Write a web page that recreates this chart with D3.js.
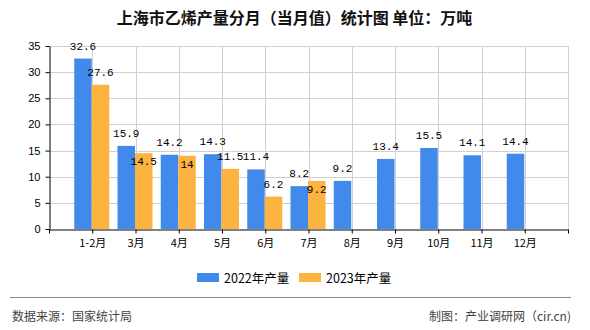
<!DOCTYPE html>
<html>
<head>
<meta charset="utf-8">
<script src="https://cdn.jsdelivr.net/npm/d3@7/dist/d3.min.js"></script>
<style>
  html, body { margin: 0; padding: 0; background: #fff; }
  svg { display: block; }
</style>
</head>
<body>
<svg id="chart" width="590" height="330"></svg>
<script>
// Monthly ethylene output, Shanghai (10k tonnes)
const months = ["1-2月", "3月", "4月", "5月", "6月", "7月", "8月", "9月", "10月", "11月", "12月"];
const output2022 = [32.6, 15.9, 14.2, 14.3, 11.4, 8.2, 9.2, 13.4, 15.5, 14.1, 14.4];
const output2023 = [27.6, 14.5, 14, 11.5, 6.2, 9.2];
const seriesNames = ["2022年产量", "2023年产量"];
const seriesColors = ["#418AEC", "#FCB340"];
const yTicks = [0, 5, 10, 15, 20, 25, 30, 35];

const svg = d3.select("#chart");
const cjk = "'Noto Sans CJK SC', 'Noto Sans', sans-serif";
const plotLeft = 49, plotRight = 568, plotTop = 46, plotBottom = 229;

// Axis slots: an empty slot before the first month and after the last
const slots = ["_s0", ...months, "_s1"];
const x = d3.scalePoint().domain(slots).range([plotLeft, plotRight]).padding(0);
const inner = d3.scaleBand().domain([0, 1]).range([-18, 17]).padding(0);
const y = d3.scaleLinear().domain([0, 35]).range([plotBottom, plotTop]);

// Title
svg.append("text")
  .attr("x", 294.5).attr("y", 24)
  .attr("text-anchor", "middle")
  .attr("font-family", cjk).attr("font-size", 16).attr("font-weight", "bold")
  .attr("fill", "#111")
  .text("上海市乙烯产量分月（当月值）统计图 单位：万吨");

// Grid
const grid = svg.append("g").attr("stroke", "#d0d0d0").attr("stroke-width", 1);
grid.selectAll("line.h").data(yTicks.filter(d => d > 0)).join("line")
  .attr("x1", plotLeft).attr("x2", plotRight)
  .attr("y1", d => Math.round(y(d)) + 0.5).attr("y2", d => Math.round(y(d)) + 0.5);
grid.selectAll("line.v").data(slots.slice(1)).join("line")
  .attr("x1", d => Math.round(x(d)) + 0.5).attr("x2", d => Math.round(x(d)) + 0.5)
  .attr("y1", plotTop).attr("y2", plotBottom);

// Bars
const series = [output2022, output2023];
series.forEach((vals, si) => {
  svg.append("g").selectAll("rect").data(vals).join("rect")
    .attr("x", (d, i) => x(months[i]) + inner(si))
    .attr("width", inner.bandwidth())
    .attr("y", d => y(d))
    .attr("height", d => plotBottom - y(d))
    .attr("fill", seriesColors[si]);
});

// Axes
const xAxis = svg.append("g")
  .attr("transform", `translate(0,${Math.round(plotBottom) + 0.5})`)
  .call(d3.axisBottom(x).tickSize(4).tickSizeOuter(0).tickPadding(6)
    .tickFormat(d => d.startsWith("_") ? "" : d));
xAxis.select(".domain").attr("stroke", "#000");
xAxis.selectAll(".tick line").attr("stroke", "#000");
xAxis.selectAll("text").attr("font-family", cjk).attr("font-size", 11).attr("fill", "#000");

const yAxis = svg.append("g")
  .attr("transform", `translate(${plotLeft + 0.5},0)`)
  .call(d3.axisLeft(y).tickValues(yTicks).tickSize(4).tickSizeOuter(0).tickPadding(5));
yAxis.select(".domain").attr("stroke", "#000");
yAxis.selectAll(".tick line").attr("stroke", "#000");
yAxis.selectAll("text").attr("font-family", "'Liberation Sans', Arial, sans-serif")
  .attr("font-size", 11).attr("fill", "#000");

// Value labels; a 2023 label that would collide with its neighbour goes inside the bar
const labelFont = "'Liberation Mono', 'DejaVu Sans Mono', monospace";
const above = 9, insideOff = 12;
const blueY = output2022.map(v => y(v) - above);
svg.append("g").selectAll("text").data(output2022).join("text")
  .attr("x", (d, i) => x(months[i]) + inner(0) + inner.bandwidth() / 2)
  .attr("y", (d, i) => blueY[i])
  .attr("text-anchor", "middle")
  .attr("font-family", labelFont).attr("font-size", 11).attr("fill", "#000")
  .text(d => d);
svg.append("g").selectAll("text").data(output2023).join("text")
  .attr("x", (d, i) => x(months[i]) + inner(1) + inner.bandwidth() / 2)
  .attr("y", (d, i) => {
    const natural = y(d) - above;
    return Math.abs(natural - blueY[i]) < 13 ? y(d) + insideOff : natural;
  })
  .attr("text-anchor", "middle")
  .attr("font-family", labelFont).attr("font-size", 11).attr("fill", "#000")
  .text(d => d);

// Legend
const legendX = [197, 299];
const legend = svg.append("g");
seriesNames.forEach((name, i) => {
  legend.append("rect").attr("x", legendX[i]).attr("y", 273)
    .attr("width", 22).attr("height", 9).attr("fill", seriesColors[i]);
  legend.append("text").attr("x", legendX[i] + 27).attr("y", 283)
    .attr("font-family", cjk).attr("font-size", 12.5).attr("fill", "#000")
    .text(name);
});

// Footer
svg.append("line").attr("x1", 10).attr("x2", 571).attr("y1", 297.5).attr("y2", 297.5)
  .attr("stroke", "#888").attr("stroke-width", 1.2);
svg.append("text").attr("x", 12).attr("y", 321)
  .attr("font-family", cjk).attr("font-size", 12).attr("fill", "#444")
  .text("数据来源：国家统计局");
svg.append("text").attr("x", 571).attr("y", 321).attr("text-anchor", "end")
  .attr("font-family", cjk).attr("font-size", 12).attr("fill", "#444")
  .text("制图：产业调研网（cir.cn)");
</script>
</body>
</html>
